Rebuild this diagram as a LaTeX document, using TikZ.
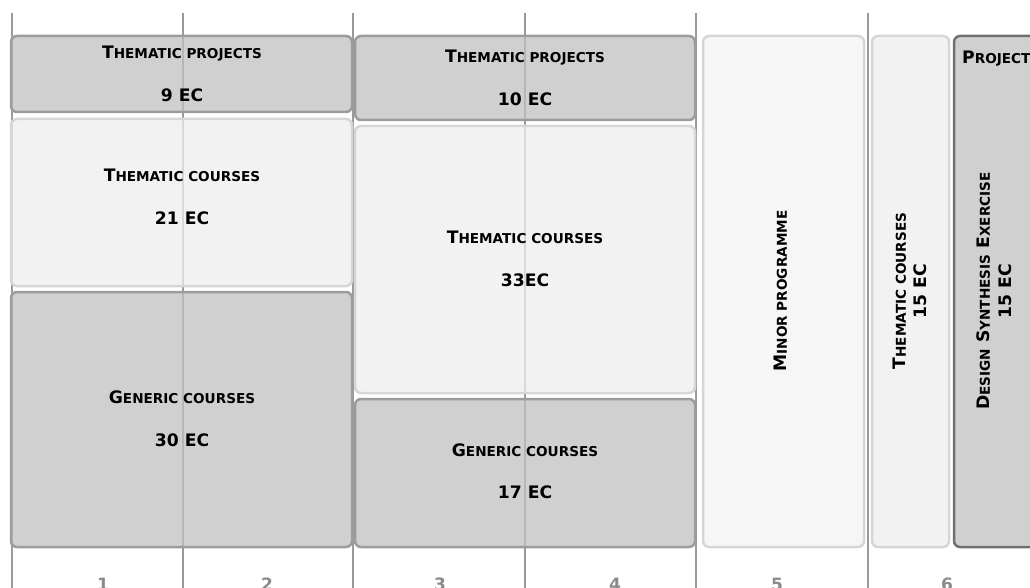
\documentclass[tikz,border=0pt]{standalone}
\usepackage{fontspec}
\setmainfont{DejaVu Sans}
\usepackage{tikz}
\usetikzlibrary{positioning}

\definecolor{gridgray}{HTML}{9A9A9A}
\definecolor{darkfill}{HTML}{C0C0C0}
\definecolor{darkedge}{HTML}{9C9C9C}
\definecolor{lightfill}{HTML}{EEEEEE}
\definecolor{minorfill}{HTML}{F3F3F3}
\definecolor{lightedge}{HTML}{D6D6D6}
\definecolor{projedge}{HTML}{707070}
\definecolor{numgray}{HTML}{8A8A8A}

% small caps made by hand
\newcommand{\smc}[1]{{\fontsize{13.6}{15}\selectfont #1}}

\tikzset{
  darkbox/.style={draw=darkedge, fill=darkfill, fill opacity=0.75, line width=2.5pt,
    rounded corners=6pt, inner sep=0pt, outer sep=0pt, anchor=north west},
  lightbox/.style={darkbox, draw=lightedge, fill=lightfill},
  boxlabel/.style={font=\bfseries\fontsize{17.2}{19}\selectfont, inner sep=0pt,
    text height=12.5pt, text depth=0pt},
  numlabel/.style={boxlabel, text=numgray, font=\bfseries\fontsize{17}{19}\selectfont,
    text height=12.4pt}
}

\begin{document}
\begin{tikzpicture}[x=1pt, y=-1pt]
  \useasboundingbox (0,0) rectangle (1030,588);

  % Period grid (behind the boxes)
  \foreach \gx in {12, 183, 353, 525, 696, 868}
    \draw[gridgray, line width=2.5pt] (\gx, 13) -- (\gx, 590);

  % Year 1, first semester
  \node[darkbox, minimum width=341pt, minimum height=76pt] (tp1) at (11, 36) {};
  \node[lightbox, minimum width=341pt, minimum height=167pt] (tc1) at (11, 119) {};
  \node[darkbox, minimum width=341pt, minimum height=255pt] (gc1) at (11, 292) {};

  % Year 1, second semester
  \node[darkbox, minimum width=340pt, minimum height=84pt] (tp2) at (355, 36) {};
  \node[lightbox, minimum width=340pt, minimum height=267pt] (tc2) at (355, 126) {};
  \node[darkbox, minimum width=340pt, minimum height=148pt] (gc2) at (355, 399) {};

  % Year 2
  \node[lightbox, fill=minorfill, minimum width=161pt, minimum height=511pt] (minor) at (703, 36) {};
  \node[lightbox, minimum width=77pt, minimum height=511pt] (tc3) at (872, 36) {};
  \node[darkbox, draw=projedge, minimum width=90pt, minimum height=511pt] (dse) at (954, 36) {};

  % Labels
  \node[boxlabel] (tp1a) at (182, 52) {T\smc{HEMATIC PROJECTS}};
  \node[boxlabel] (tp1b) at (182, 95) {9 EC};
  \node[boxlabel] (tc1a) at (182, 175) {T\smc{HEMATIC COURSES}};
  \node[boxlabel] (tc1b) at (182, 218) {21 EC};
  \node[boxlabel] (gc1a) at (182, 397) {G\smc{ENERIC COURSES}};
  \node[boxlabel] (gc1b) at (182, 440) {30 EC};

  \node[boxlabel] (tp2a) at (525, 56) {T\smc{HEMATIC PROJECTS}};
  \node[boxlabel] (tp2b) at (525, 99) {10 EC};
  \node[boxlabel] (tc2a) at (525, 237) {T\smc{HEMATIC COURSES}};
  \node[boxlabel] (tc2b) at (525, 280) {33EC};
  \node[boxlabel] (gc2a) at (525, 450) {G\smc{ENERIC COURSES}};
  \node[boxlabel] (gc2b) at (525, 492) {17 EC};

  \node[boxlabel, rotate=90] (minora) at (780.5, 291) {M\smc{INOR PROGRAMME}};
  \node[boxlabel, rotate=90] (tc3a) at (899.5, 291) {T\smc{HEMATIC COURSES}};
  \node[boxlabel, rotate=90] (tc3b) at (920.5, 291) {15 EC};
  \node[boxlabel, anchor=west] (dsehead) at (962, 57) {P\smc{ROJECT}};
  \node[boxlabel, rotate=90] (dsea) at (983.5, 291) {D\smc{ESIGN} S\smc{YNTHESIS} E\smc{XERCISE}};
  \node[boxlabel, rotate=90] (dseb) at (1005.5, 291) {15 EC};

  % Period numbers
  \foreach \nx/\nn in {103/1, 267/2, 440/3, 615/4, 777/5, 947/6}
    \node[numlabel] (num\nn) at (\nx, 584) {\nn};
\end{tikzpicture}
\end{document}
